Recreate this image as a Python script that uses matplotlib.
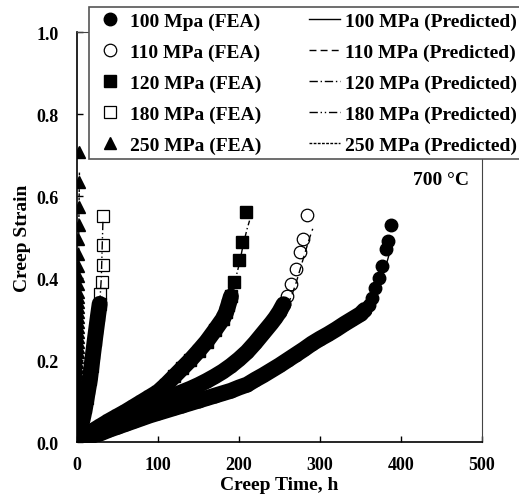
import matplotlib
matplotlib.use("Agg")
import matplotlib.pyplot as plt

plt.rcParams['font.family'] = ['Liberation Serif', 'DejaVu Serif']
plt.rcParams['font.weight'] = 'bold'

# FEA results (creep time h, creep strain); "band" = densely sampled part, "tail" = last sparse points
t100_band = [0, 10, 20, 30, 40, 50, 60, 70, 80, 90, 100, 110, 120, 130, 140, 150, 160, 170, 180,
             190, 200, 210, 220, 230, 240, 250, 260, 270, 280, 290, 300, 310, 320, 330, 340, 350, 355]
s100_band = [0, 0.008, 0.015, 0.022, 0.030, 0.037, 0.044, 0.051, 0.058, 0.065, 0.071, 0.077, 0.083,
             0.089, 0.095, 0.101, 0.107, 0.113, 0.119, 0.125, 0.133, 0.140, 0.152, 0.163, 0.175, 0.187,
             0.200, 0.213, 0.226, 0.240, 0.252, 0.263, 0.275, 0.288, 0.300, 0.312, 0.322]
t100_tail = [360, 364, 368, 373, 377, 382, 384, 388]
s100_tail = [0.335, 0.352, 0.375, 0.400, 0.430, 0.470, 0.490, 0.530]

t110_band = [0, 10, 20, 30, 40, 50, 60, 70, 80, 90, 100, 110, 120, 130, 140, 150, 160, 170, 180,
             190, 200, 210, 220, 230, 240, 245, 250, 255]
s110_band = [0, 0.011, 0.021, 0.030, 0.040, 0.050, 0.059, 0.068, 0.077, 0.087, 0.097, 0.106, 0.114,
             0.122, 0.130, 0.139, 0.149, 0.160, 0.172, 0.186, 0.202, 0.220, 0.242, 0.266,
             0.290, 0.303, 0.318, 0.336]
t110_tail = [259, 264, 270, 275, 279, 284]
s110_tail = [0.356, 0.385, 0.422, 0.463, 0.495, 0.554]

t120_band = [0, 10, 20, 30, 40, 50, 60, 70, 80, 90, 100, 110, 120, 130, 140, 150, 160, 170, 180,
             184, 187, 190]
s120_band = [0, 0.015, 0.028, 0.040, 0.052, 0.063, 0.074, 0.086, 0.098, 0.110, 0.122, 0.140, 0.160,
             0.180, 0.200, 0.222, 0.245, 0.272, 0.300, 0.316, 0.335, 0.355]
t120_tail = [194, 200, 204, 209]
s120_tail = [0.390, 0.444, 0.488, 0.561]

t180_band = [0, 2, 4, 6, 8, 10, 12, 14, 16, 18, 20, 22, 24, 26, 28]
s180_band = [0, 0.016, 0.032, 0.048, 0.065, 0.085, 0.108, 0.131, 0.154, 0.186, 0.218, 0.249,
             0.279, 0.309, 0.337]
t180_tail = [28.7, 30.5, 32, 32, 32]
s180_tail = [0.361, 0.390, 0.432, 0.480, 0.551]

t250 = [0, 0.03, 0.06, 0.1, 0.13, 0.16, 0.2, 0.23, 0.26, 0.3, 0.33, 0.36, 0.4, 0.43, 0.46, 0.5,
        0.53, 0.56, 0.6, 0.63, 0.66, 0.7, 0.73, 0.76, 0.8, 0.83, 0.86, 0.9, 0.93, 0.96, 1.0, 1.05,
        1.2, 1.4, 1.6, 1.8, 2.0, 2.2, 2.5, 2.8]
s250 = [0, 0.012, 0.024, 0.037, 0.049, 0.061, 0.073, 0.085, 0.098, 0.110, 0.122, 0.134, 0.146,
        0.159, 0.171, 0.183, 0.195, 0.207, 0.220, 0.232, 0.244, 0.256, 0.268, 0.281, 0.293, 0.305,
        0.317, 0.329, 0.342, 0.354, 0.366, 0.385,
        0.405, 0.430, 0.459, 0.495, 0.529, 0.573, 0.634, 0.707]

# Predicted curves
p100_t = [0, 50, 100, 150, 200, 250, 300, 330, 350, 362, 372, 380, 385, 389]
p100_s = [0, 0.037, 0.071, 0.101, 0.133, 0.187, 0.250, 0.288, 0.312, 0.340, 0.380, 0.420, 0.455, 0.490]
p110_t = [0, 50, 100, 150, 200, 240, 250, 258, 264, 270, 276, 282, 287, 291]
p110_s = [0, 0.050, 0.097, 0.139, 0.202, 0.290, 0.310, 0.330, 0.352, 0.385, 0.425, 0.465, 0.497, 0.520]
p120_t = [0, 50, 100, 150, 180, 190, 196, 201, 205, 210, 213]
p120_s = [0, 0.063, 0.122, 0.222, 0.300, 0.350, 0.400, 0.440, 0.480, 0.520, 0.540]
p180_t = [0, 5, 10, 15, 20, 25, 28, 30, 31, 32]
p180_s = [0, 0.040, 0.085, 0.143, 0.218, 0.294, 0.337, 0.400, 0.470, 0.540]
p250_t = [0, 0.5, 1.0, 1.5, 2.0, 2.5, 3.0]
p250_s = [0, 0.10, 0.22, 0.35, 0.47, 0.58, 0.66]

fea_labels = ["100 Mpa (FEA)", "110 MPa (FEA)", "120 MPa (FEA)", "180 MPa (FEA)", "250 MPa (FEA)"]
pred_labels = ["100 MPa (Predicted)", "110 MPa (Predicted)", "120 MPa (Predicted)",
               "180 MPa (Predicted)", "250 MPa (Predicted)"]

fig = plt.figure(figsize=(5.19, 5.02), dpi=100)
ax = fig.add_axes([0.1484, 0.1175, 0.7803, 0.8167])

ms = 9
band_lw = 11.5
filled = dict(color='black', ms=ms, ls='none')
hollow = dict(mfc='none', mec='black', mew=0.9, ms=ms, ls='none')

# dense FEA output merges into a solid band
for tb, sb in [(t100_band, s100_band), (t110_band, s110_band), (t120_band, s120_band),
               (t180_band, s180_band)]:
    ax.plot(tb, sb, color='black', lw=band_lw, solid_capstyle='round', solid_joinstyle='round')

h = []
h.append(ax.plot(t100_band + t100_tail, s100_band + s100_tail, 'o', label=fea_labels[0], **filled)[0])
h.append(ax.plot(t110_band + t110_tail, s110_band + s110_tail, 'o', label=fea_labels[1], **hollow)[0])
h.append(ax.plot(t120_band + t120_tail, s120_band + s120_tail, 's', label=fea_labels[2], **filled)[0])
h.append(ax.plot(t180_band + t180_tail, s180_band + s180_tail, 's', label=fea_labels[3], **hollow)[0])
h.append(ax.plot(t250, s250, '^', label=fea_labels[4], **filled)[0])

h.append(ax.plot(p100_t, p100_s, '-', color='black', lw=1, label=pred_labels[0])[0])
h.append(ax.plot(p110_t, p110_s, color='black', lw=1, ls=(0, (5, 3)), label=pred_labels[1])[0])
h.append(ax.plot(p120_t, p120_s, color='black', lw=1, ls=(0, (6, 2, 1, 2)), label=pred_labels[2])[0])
h.append(ax.plot(p180_t, p180_s, color='black', lw=1, ls=(0, (6, 2, 1, 2, 1, 2)), label=pred_labels[3])[0])
h.append(ax.plot(p250_t, p250_s, color='black', lw=1, ls=(0, (2, 1)), label=pred_labels[4])[0])

ax.set_xlim(0, 500)
ax.set_ylim(0, 1.0)
ax.set_xticks([0, 100, 200, 300, 400, 500])
ax.set_yticks([0.0, 0.2, 0.4, 0.6, 0.8, 1.0])
ax.set_yticklabels(["0.0", "0.2", "0.4", "0.6", "0.8", "1.0"])
ax.tick_params(direction='in', length=4, width=1, labelsize=13, pad=10, top=False, right=False)
ax.tick_params(axis='y', pad=13)
for side in ['left', 'bottom']:
    ax.spines[side].set_linewidth(1.2)
for side in ['right', 'top']:
    ax.spines[side].set_color('#444444')

ax.set_xlabel("Creep Time, h", fontsize=14, fontweight='bold', labelpad=2)
ax.set_ylabel("Creep Strain", fontsize=14, fontweight='bold', labelpad=4)

ax.text(484, 0.64, "700 \u00b0C", ha='right', va='center', fontsize=14, fontweight='bold')

leg = ax.legend(handles=h, ncol=2, loc='upper right', bbox_to_anchor=(1.099, 1.061),
                borderaxespad=0, prop={'size': 14, 'weight': 'bold'},
                handlelength=1.6, handletextpad=0.25, columnspacing=2.45,
                labelspacing=0.69, borderpad=0.25, fancybox=False, framealpha=1)
leg.get_frame().set_edgecolor('#555555')
leg.get_frame().set_linewidth(1.2)

fig.savefig("out.png", dpi=100)
